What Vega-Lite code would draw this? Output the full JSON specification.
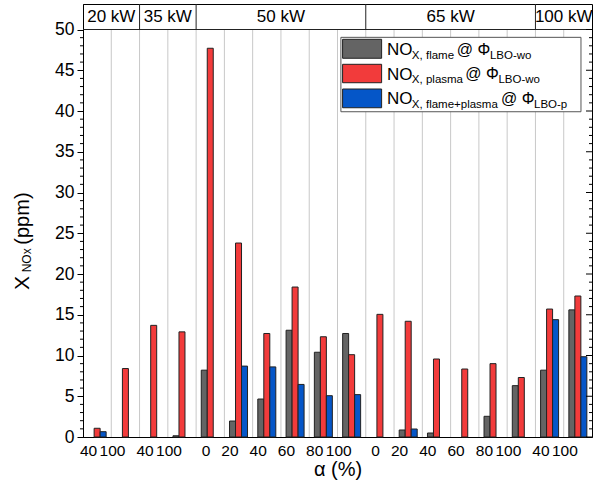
{
  "$schema": "https://vega.github.io/schema/vega-lite/v6.json",
  "width": 509,
  "height": 433,
  "autosize": {"type": "none"},
  "padding": {"left": 83, "top": 4, "right": 19, "bottom": 46},
  "config": {
    "font": "Liberation Sans",
    "view": {"stroke": "#000", "strokeWidth": 1},
    "axis": {"labelColor": "#000", "titleColor": "#000", "domainColor": "#000", "tickColor": "#000", "titleFontWeight": "normal"}
  },
  "datasets": {
    "bars": [
      {"k": "35|100", "s": "flame", "v": 0.15},
      {"k": "50|0", "s": "flame", "v": 8.2},
      {"k": "50|20", "s": "flame", "v": 1.96},
      {"k": "50|40", "s": "flame", "v": 4.66},
      {"k": "50|60", "s": "flame", "v": 13.1},
      {"k": "50|80", "s": "flame", "v": 10.4},
      {"k": "50|100", "s": "flame", "v": 12.7},
      {"k": "65|20", "s": "flame", "v": 0.86},
      {"k": "65|40", "s": "flame", "v": 0.49},
      {"k": "65|80", "s": "flame", "v": 2.54},
      {"k": "65|100", "s": "flame", "v": 6.3},
      {"k": "100|40", "s": "flame", "v": 8.2},
      {"k": "100|100", "s": "flame", "v": 15.6},
      {"k": "20|40", "s": "plasma", "v": 1.07},
      {"k": "20|100", "s": "plasma", "v": 8.4},
      {"k": "35|40", "s": "plasma", "v": 13.7},
      {"k": "35|100", "s": "plasma", "v": 12.9},
      {"k": "50|0", "s": "plasma", "v": 47.7},
      {"k": "50|20", "s": "plasma", "v": 23.8},
      {"k": "50|40", "s": "plasma", "v": 12.7},
      {"k": "50|60", "s": "plasma", "v": 18.4},
      {"k": "50|80", "s": "plasma", "v": 12.3},
      {"k": "50|100", "s": "plasma", "v": 10.1},
      {"k": "65|0", "s": "plasma", "v": 15.05},
      {"k": "65|20", "s": "plasma", "v": 14.2},
      {"k": "65|40", "s": "plasma", "v": 9.57},
      {"k": "65|60", "s": "plasma", "v": 8.34},
      {"k": "65|80", "s": "plasma", "v": 9.0},
      {"k": "65|100", "s": "plasma", "v": 7.3},
      {"k": "100|40", "s": "plasma", "v": 15.7},
      {"k": "100|100", "s": "plasma", "v": 17.3},
      {"k": "20|40", "s": "flame+plasma", "v": 0.65},
      {"k": "50|20", "s": "flame+plasma", "v": 8.7},
      {"k": "50|40", "s": "flame+plasma", "v": 8.6},
      {"k": "50|60", "s": "flame+plasma", "v": 6.45},
      {"k": "50|80", "s": "flame+plasma", "v": 5.07},
      {"k": "50|100", "s": "flame+plasma", "v": 5.2},
      {"k": "65|20", "s": "flame+plasma", "v": 0.98},
      {"k": "100|40", "s": "flame+plasma", "v": 14.4},
      {"k": "100|100", "s": "flame+plasma", "v": 9.85}
    ],
    "grid": [
      {"k": "20|100"}, {"k": "35|40"}, {"k": "35|100"}, {"k": "50|0"}, {"k": "50|20"}, {"k": "50|40"},
      {"k": "50|60"}, {"k": "50|80"}, {"k": "50|100"}, {"k": "65|0"}, {"k": "65|20"}, {"k": "65|40"},
      {"k": "65|60"}, {"k": "65|80"}, {"k": "65|100"}, {"k": "100|40"}, {"k": "100|100"}
    ],
    "groups": [{"k": "35|40"}, {"k": "50|0"}, {"k": "65|0"}, {"k": "100|40"}],
    "headers": [
      {"k": "20|100", "t": "20 kW"},
      {"k": "35|100", "t": "35 kW"},
      {"k": "50|60", "t": "50 kW"},
      {"k": "65|60", "t": "65 kW"},
      {"k": "100|100", "t": "100 kW"}
    ],
    "minor": [
      {"t": 1}, {"t": 2}, {"t": 3}, {"t": 4}, {"t": 6}, {"t": 7}, {"t": 8}, {"t": 9},
      {"t": 11}, {"t": 12}, {"t": 13}, {"t": 14}, {"t": 16}, {"t": 17}, {"t": 18}, {"t": 19},
      {"t": 21}, {"t": 22}, {"t": 23}, {"t": 24}, {"t": 26}, {"t": 27}, {"t": 28}, {"t": 29},
      {"t": 31}, {"t": 32}, {"t": 33}, {"t": 34}, {"t": 36}, {"t": 37}, {"t": 38}, {"t": 39},
      {"t": 41}, {"t": 42}, {"t": 43}, {"t": 44}, {"t": 46}, {"t": 47}, {"t": 48}, {"t": 49}
    ],
    "major": [
      {"t": 0}, {"t": 5}, {"t": 10}, {"t": 15}, {"t": 20}, {"t": 25}, {"t": 30}, {"t": 35}, {"t": 40}, {"t": 45}, {"t": 50}
    ]
  },
  "layer": [
    {
      "layer": [
        {
          "data": {"name": "grid"},
          "mark": {"type": "rule", "color": "#c8c8c8", "strokeWidth": 1},
          "encoding": {
            "x": {"field": "k", "type": "nominal", "bandPosition": 0},
            "y": {"datum": 0},
            "y2": {"datum": 50}
          }
        },
        {
          "data": {"name": "bars"},
          "mark": {"type": "bar", "stroke": "#222", "strokeWidth": 1},
          "encoding": {
            "x": {
              "field": "k", "type": "nominal",
              "scale": {"domain": ["20|40","20|100","35|40","35|100","50|0","50|20","50|40","50|60","50|80","50|100","65|0","65|20","65|40","65|60","65|80","65|100","100|40","100|100"], "paddingInner": 0, "paddingOuter": 0},
              "axis": {"title": "α (%)", "labelExpr": "split(datum.label, '|')[1]", "labelFontSize": 15.5, "labelPadding": 13, "labelAngle": 0, "ticks": false, "grid": false, "titleFontSize": 20, "titlePadding": 1}
            },
            "xOffset": {"field": "s", "type": "nominal", "scale": {"domain": ["flame", "plasma", "flame+plasma"], "paddingInner": 0, "paddingOuter": 0.857}},
            "y": {
              "field": "v", "type": "quantitative",
              "scale": {"domain": [0, 53.13], "nice": false, "zero": true},
              "axis": {"title": null, "values": [0,5,10,15,20,25,30,35,40,45,50], "labelFontSize": 17.5, "labelOverlap": false, "labelFlush": false, "labelPadding": 3, "grid": false, "tickSize": 6}
            },
            "color": {"field": "s", "type": "nominal", "scale": {"domain": ["flame", "plasma", "flame+plasma"], "range": ["#646464", "#f23b3b", "#0556c8"]}, "legend": null}
          }
        },
        {
          "data": {"name": "groups"},
          "mark": {"type": "rule", "color": "#222", "strokeWidth": 1},
          "encoding": {
            "x": {"field": "k", "type": "nominal", "bandPosition": 0},
            "y": {"datum": 50},
            "y2": {"datum": 53.13}
          }
        },
        {
          "data": {"values": [{}]},
          "mark": {"type": "rule", "color": "#222", "strokeWidth": 1},
          "encoding": {"y": {"datum": 50}}
        },
        {
          "data": {"name": "headers"},
          "mark": {"type": "text", "fontSize": 17, "baseline": "middle", "align": "center", "color": "#000"},
          "encoding": {
            "x": {"field": "k", "type": "nominal", "bandPosition": 0},
            "y": {"datum": 51.55},
            "text": {"field": "t"}
          }
        }
      ]
    },
    {
      "data": {"values": [{}]},
      "layer": [
        {
          "data": {"name": "minor"},
          "mark": {"type": "rule", "color": "#000", "strokeWidth": 1},
          "encoding": {
            "x": {"datum": -0.1061, "type": "quantitative", "scale": {"domain": [0, 18], "nice": false, "zero": false}, "axis": null},
            "x2": {"datum": 0},
            "y": {"field": "t", "type": "quantitative", "axis": null}
          }
        },
        {
          "data": {"name": "minor"},
          "mark": {"type": "rule", "color": "#000", "strokeWidth": 1},
          "encoding": {
            "x": {"datum": 17.894, "type": "quantitative", "scale": {"domain": [0, 18], "nice": false, "zero": false}, "axis": null},
            "x2": {"datum": 18},
            "y": {"field": "t", "type": "quantitative"}
          }
        },
        {
          "data": {"name": "major"},
          "mark": {"type": "rule", "color": "#000", "strokeWidth": 1},
          "encoding": {
            "x": {"datum": 17.788, "type": "quantitative", "scale": {"domain": [0, 18], "nice": false, "zero": false}, "axis": null},
            "x2": {"datum": 18},
            "y": {"field": "t", "type": "quantitative"}
          }
        },
        {
          "mark": {"type": "rect", "fill": "#fff", "stroke": "#555", "strokeWidth": 1},
          "encoding": {
            "x": {"datum": 9.12, "type": "quantitative", "scale": {"domain": [0, 18], "nice": false, "zero": false}, "axis": null},
            "x2": {"datum": 17.61},
            "y": {"datum": 49.04, "type": "quantitative"},
            "y2": {"datum": 39.91}
          }
        },
        {
          "mark": {"type": "rect", "fill": "#646464", "stroke": "#222", "strokeWidth": 1},
          "encoding": {
            "x": {"datum": 9.18, "type": "quantitative", "scale": {"domain": [0, 18], "nice": false, "zero": false}, "axis": null},
            "x2": {"datum": 10.56},
            "y": {"datum": 48.8, "type": "quantitative"},
            "y2": {"datum": 46.47}
          }
        },
        {
          "mark": {"type": "rect", "fill": "#f23b3b", "stroke": "#222", "strokeWidth": 1},
          "encoding": {
            "x": {"datum": 9.18, "type": "quantitative", "scale": {"domain": [0, 18], "nice": false, "zero": false}, "axis": null},
            "x2": {"datum": 10.56},
            "y": {"datum": 45.73, "type": "quantitative"},
            "y2": {"datum": 43.47}
          }
        },
        {
          "mark": {"type": "rect", "fill": "#0556c8", "stroke": "#222", "strokeWidth": 1},
          "encoding": {
            "x": {"datum": 9.18, "type": "quantitative", "scale": {"domain": [0, 18], "nice": false, "zero": false}, "axis": null},
            "x2": {"datum": 10.56},
            "y": {"datum": 42.7, "type": "quantitative"},
            "y2": {"datum": 40.4}
          }
        },
        {
          "mark": {"type": "text", "text": ["NO", "NO", "NO"], "fontSize": 17, "lineHeight": 24.5, "align": "left", "baseline": "alphabetic", "color": "#000"},
          "encoding": {
            "x": {"datum": 10.75, "type": "quantitative", "scale": {"domain": [0, 18], "nice": false, "zero": false}, "axis": null},
            "y": {"datum": 46.87, "type": "quantitative"}
          }
        },
        {
          "mark": {"type": "text", "text": ["X, flame", "X, plasma", "X, flame+plasma"], "fontSize": 11.5, "lineHeight": 24.5, "align": "left", "baseline": "alphabetic", "color": "#000"},
          "encoding": {
            "x": {"datum": 11.63, "type": "quantitative", "scale": {"domain": [0, 18], "nice": false, "zero": false}, "axis": null},
            "y": {"datum": 46.44, "type": "quantitative"}
          }
        },
        {
          "mark": {"type": "text", "text": "@ Φ", "fontSize": 16, "align": "left", "baseline": "alphabetic", "color": "#000"},
          "encoding": {
            "x": {"datum": 13.22, "type": "quantitative", "scale": {"domain": [0, 18], "nice": false, "zero": false}, "axis": null},
            "y": {"datum": 46.87, "type": "quantitative"}
          }
        },
        {
          "mark": {"type": "text", "text": "@ Φ", "fontSize": 16, "align": "left", "baseline": "alphabetic", "color": "#000"},
          "encoding": {
            "x": {"datum": 13.52, "type": "quantitative", "scale": {"domain": [0, 18], "nice": false, "zero": false}, "axis": null},
            "y": {"datum": 43.89, "type": "quantitative"}
          }
        },
        {
          "mark": {"type": "text", "text": "@ Φ", "fontSize": 16, "align": "left", "baseline": "alphabetic", "color": "#000"},
          "encoding": {
            "x": {"datum": 14.78, "type": "quantitative", "scale": {"domain": [0, 18], "nice": false, "zero": false}, "axis": null},
            "y": {"datum": 40.86, "type": "quantitative"}
          }
        },
        {
          "mark": {"type": "text", "text": "LBO-wo", "fontSize": 11.5, "align": "left", "baseline": "alphabetic", "color": "#000"},
          "encoding": {
            "x": {"datum": 14.39, "type": "quantitative", "scale": {"domain": [0, 18], "nice": false, "zero": false}, "axis": null},
            "y": {"datum": 46.44, "type": "quantitative"}
          }
        },
        {
          "mark": {"type": "text", "text": "LBO-wo", "fontSize": 11.5, "align": "left", "baseline": "alphabetic", "color": "#000"},
          "encoding": {
            "x": {"datum": 14.69, "type": "quantitative", "scale": {"domain": [0, 18], "nice": false, "zero": false}, "axis": null},
            "y": {"datum": 43.46, "type": "quantitative"}
          }
        },
        {
          "mark": {"type": "text", "text": "LBO-p", "fontSize": 11.5, "align": "left", "baseline": "alphabetic", "color": "#000"},
          "encoding": {
            "x": {"datum": 15.95, "type": "quantitative", "scale": {"domain": [0, 18], "nice": false, "zero": false}, "axis": null},
            "y": {"datum": 40.43, "type": "quantitative"}
          }
        },
        {
          "mark": {"type": "text", "text": "X", "fontSize": 21, "angle": 270, "align": "left", "baseline": "alphabetic", "color": "#000"},
          "encoding": {
            "x": {"datum": -1.927, "type": "quantitative", "scale": {"domain": [0, 18], "nice": false, "zero": false}, "axis": null},
            "y": {"datum": 18.04, "type": "quantitative"}
          }
        },
        {
          "mark": {"type": "text", "text": "NOx", "fontSize": 12, "angle": 270, "align": "left", "baseline": "alphabetic", "color": "#000"},
          "encoding": {
            "x": {"datum": -1.84, "type": "quantitative", "scale": {"domain": [0, 18], "nice": false, "zero": false}, "axis": null},
            "y": {"datum": 20.2, "type": "quantitative"}
          }
        },
        {
          "mark": {"type": "text", "text": "(ppm)", "fontSize": 20, "angle": 270, "align": "left", "baseline": "alphabetic", "color": "#000"},
          "encoding": {
            "x": {"datum": -1.927, "type": "quantitative", "scale": {"domain": [0, 18], "nice": false, "zero": false}, "axis": null},
            "y": {"datum": 23.6, "type": "quantitative"}
          }
        }
      ]
    }
  ],
  "resolve": {"scale": {"x": "independent"}, "axis": {"x": "independent", "y": "independent"}}
}
